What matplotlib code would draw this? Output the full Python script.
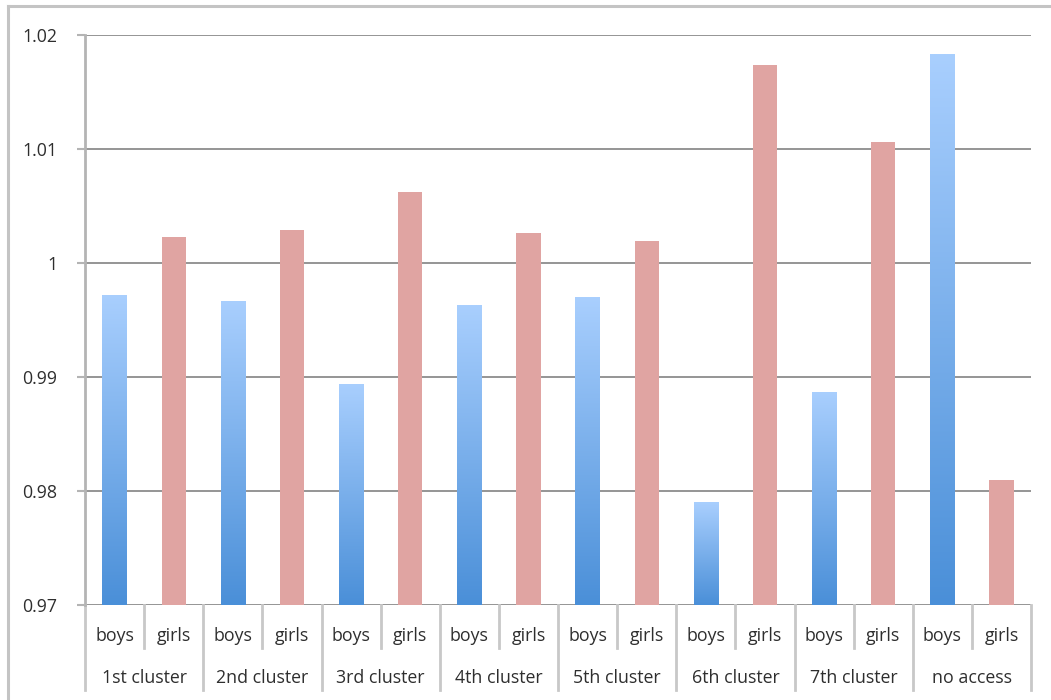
import numpy as np
import matplotlib
matplotlib.use("Agg")
import matplotlib.pyplot as plt
from matplotlib.colors import LinearSegmentedColormap
from matplotlib.lines import Line2D

plt.rcParams['font.family'] = ['Open Sans', 'DejaVu Sans']

clusters = ["1st cluster", "2nd cluster", "3rd cluster", "4th cluster",
            "5th cluster", "6th cluster", "7th cluster", "no access"]
sub_labels = ["boys", "girls"]
boys = [0.9972, 0.9967, 0.9894, 0.9963, 0.9970, 0.9790, 0.9887, 1.0183]
girls = [1.0023, 1.0029, 1.0062, 1.0026, 1.0019, 1.0174, 1.0106, 0.9810]
y_ticks = [0.97, 0.98, 0.99, 1.0, 1.01, 1.02]
y_tick_labels = ["0.97", "0.98", "0.99", "1", "1.01", "1.02"]

W, H = 1051, 700
FS = 12.8
TXT = "#2e2e2e"
fig = plt.figure(figsize=(W / 100, H / 100), dpi=100)

# outer chart frame
fig.add_artist(Line2D([8 / W, 8 / W], [1 - 698 / H, 1 - 6 / H], color="#c4c4c4", lw=2.2))
fig.add_artist(Line2D([8 / W, 1.0], [1 - 6 / H, 1 - 6 / H], color="#c4c4c4", lw=2.2))

ax_l, ax_r, ax_t, ax_b = 85, 1031, 35, 605
ax = fig.add_axes([ax_l / W, 1 - ax_b / H, (ax_r - ax_l) / W, (ax_b - ax_t) / H])

ymin, ymax = 0.97, 1.02
n = len(clusters) * 2

for s in ["top", "right", "bottom"]:
    ax.spines[s].set_visible(False)
ax.spines["left"].set_color("#b4b4b4")
ax.spines["left"].set_linewidth(2.0)

ax.set_yticks(y_ticks)
ax.set_yticklabels(y_tick_labels, fontsize=FS, color=TXT)
ax.tick_params(axis="y", length=6, width=1.5, color="#b4b4b4", pad=14)
ax.set_xticks([])
for yv in y_ticks:
    ax.axhline(yv, color="#8c8c8c", lw=1.3, zorder=1)

bw = 0.41
boy_cmap = LinearSegmentedColormap.from_list("boys", ["#4a8fd8", "#a9cffe"])
grad = np.linspace(0, 1, 256).reshape(-1, 1)

boy_x = np.arange(len(clusters)) * 2 + 0.5
girl_x = boy_x + 1

boy_bars = ax.bar(boy_x, np.array(boys) - ymin, bottom=ymin, width=bw,
                  color="none", edgecolor="none", zorder=2)
for bar in boy_bars:
    x0 = bar.get_x()
    x1 = x0 + bar.get_width()
    top = bar.get_y() + bar.get_height()
    im = ax.imshow(grad, cmap=boy_cmap, aspect="auto", origin="lower",
                   extent=(x0, x1, ymin, top), zorder=3, interpolation="bilinear")
    im.set_clip_path(bar)

ax.bar(girl_x, np.array(girls) - ymin, bottom=ymin, width=bw,
       color="#e0a4a2", edgecolor="none", zorder=3)

ax.set_xlim(0, n)
ax.set_ylim(ymin, ymax)

# category table below the axis
ah = ax_b - ax_t
y_sub_end = -(648 - ax_b) / ah
y_grp_end = -(690 - ax_b) / ah
y_sub_txt = -(636 - ax_b) / ah
y_grp_txt = -(678 - ax_b) / ah
xtr = ax.get_xaxis_transform()
line_kw = dict(color="#c8c8c8", lw=2.0, clip_on=False, transform=xtr)

for g in range(len(clusters) + 1):
    ax.plot([2 * g, 2 * g], [0, y_grp_end], **line_kw)
for g in range(len(clusters)):
    ax.plot([2 * g + 1, 2 * g + 1], [0, y_sub_end], **line_kw)
    ax.text(2 * g + 1, y_grp_txt, clusters[g], ha="center", va="center",
            fontsize=FS, color=TXT, transform=xtr)
    for k, lab in enumerate(sub_labels):
        ax.text(2 * g + k + 0.5, y_sub_txt, lab, ha="center", va="center",
                fontsize=FS, color=TXT, transform=xtr)

fig.savefig("out.png", dpi=100)
